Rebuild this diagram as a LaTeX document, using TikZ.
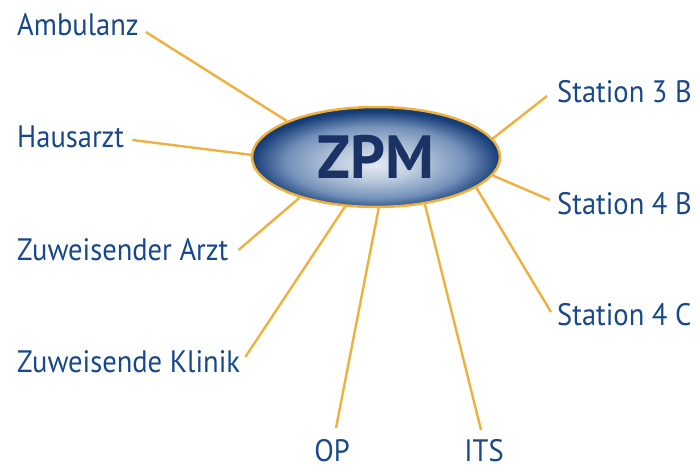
\documentclass[tikz,border=0pt]{standalone}
\usepackage{fontspec}
\setmainfont{PT Sans}
\newfontfamily\ortfont[FakeStretch=0.92]{PT Sans}
\usetikzlibrary{shapes.geometric,positioning}
\definecolor{zpmblau}{RGB}{24,72,140}
\definecolor{zpmdunkel}{RGB}{26,50,100}
\definecolor{zpmorange}{RGB}{240,176,62}
\pgfdeclareradialshading{zpmglanz}{\pgfpoint{0bp}{-4bp}}{%
  color(0bp)=(white!88!zpmblau); color(8bp)=(white!72!zpmblau);
  color(18bp)=(white!40!zpmblau); color(25bp)=(zpmblau!85!black);
  color(50bp)=(zpmblau!85!black)}
\tikzset{
  %Define style for the centre
  kern/.style={
    ellipse,
    draw=zpmorange, line width=2.5pt,
    shading=zpmglanz,
    minimum width=248pt,
    minimum height=100pt,
    inner sep=0pt,
    text=zpmdunkel,
    font=\fontsize{61}{61}\selectfont\bfseries},
  %Define style for the labels
  ort/.style={
    inner sep=0pt,
    text=zpmblau,
    font=\ortfont\fontsize{31}{31}\selectfont},
  % Define line style
  strahl/.style={
    draw=zpmorange,
    line width=2.4pt}
}

\begin{document}
\begin{tikzpicture}[x=1pt,y=-1pt]
  \useasboundingbox (0,0) rectangle (700,466);
  \node[kern] (zpm) at (376,157) {ZPM};
  \node[ort,anchor=base west] (amb) at (17,35) {Ambulanz};
  \node[ort,anchor=base west] (haus) at (17,147) {Hausarzt};
  \node[ort,anchor=base west] (arzt) at (17,260) {Zuweisender Arzt};
  \node[ort,anchor=base west] (klinik) at (17,372) {Zuweisende Klinik};
  \node[ort,anchor=base] (op) at (332,461) {OP};
  \node[ort,anchor=base] (its) at (484,461) {ITS};
  \node[ort,anchor=base west] (st3b) at (557,102) {Station 3 B};
  \node[ort,anchor=base west] (st4b) at (557,214) {Station 4 B};
  \node[ort,anchor=base west] (st4c) at (557,325) {Station 4 C};
  \path[strahl]
    (zpm.158) edge ([shift={(7pt,3pt)}]amb.base east)
    (zpm.179) edge ([shift={(8pt,7pt)}]haus.base east)
    (zpm.208) edge ([shift={(10pt,10pt)}]arzt.base east)
    (zpm.238) edge ([shift={(5pt,15pt)}]klinik.base east)
    (zpm.273) edge ([shift={(4pt,33pt)}]op.base)
    (zpm.316) edge ([shift={(-3pt,31pt)}]its.base)
    (zpm.9) edge ([shift={(-10pt,6pt)}]st3b.base west)
    (zpm.351) edge ([shift={(-7pt,14pt)}]st4b.base west)
    (zpm.343) edge ([shift={(-6pt,13pt)}]st4c.base west);
\end{tikzpicture}
\end{document}
